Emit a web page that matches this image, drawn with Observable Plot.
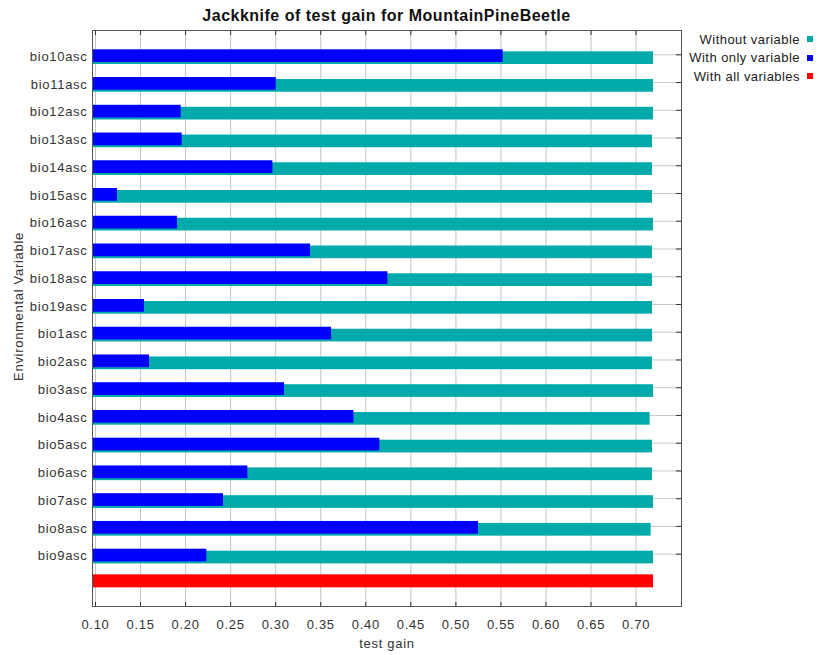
<!DOCTYPE html>
<html>
<head>
<meta charset="utf-8">
<script src="https://cdn.jsdelivr.net/npm/d3@7"></script>
<script src="https://cdn.jsdelivr.net/npm/@observablehq/plot@0.6"></script>
<style>
  body { margin: 0; background: #fff; }
  #chart { position: relative; width: 819px; height: 655px; font-family: "Liberation Sans", Arial, sans-serif; }
  #chart svg { position: absolute; left: 0; top: 0; z-index: 0; }
  #title { position: absolute; z-index: 1; left: 92px; width: 589px; top: 7px; line-height: 18px; text-align: center;
           font-weight: bold; font-size: 16px; color: #111; letter-spacing: 0.5px; }
  #legend { position: absolute; z-index: 1; right: 6px; top: 30px; font-size: 13px; color: #222; letter-spacing: 0.45px; }
  #legend .row { display: flex; align-items: center; justify-content: flex-end; height: 18.6px; }
  #legend .sw { display: inline-block; width: 6px; height: 6px; margin-left: 7px; }
</style>
</head>
<body>
<div id="chart">
  <div id="title"></div>
  <div id="legend"></div>
</div>
<script>
// Jackknife of test gain: each environmental variable alone vs. left out
const variables = ["bio10asc", "bio11asc", "bio12asc", "bio13asc", "bio14asc", "bio15asc", "bio16asc",
  "bio17asc", "bio18asc", "bio19asc", "bio1asc", "bio2asc", "bio3asc", "bio4asc", "bio5asc",
  "bio6asc", "bio7asc", "bio8asc", "bio9asc"];
const withoutVariable = [0.7193, 0.7193, 0.7193, 0.7182, 0.7182, 0.7182, 0.7193, 0.7182, 0.7182, 0.7182,
  0.7182, 0.7182, 0.7193, 0.7156, 0.7182, 0.7182, 0.7193, 0.7167, 0.7193];
const withOnlyVariable = [0.5525, 0.3006, 0.1951, 0.1962, 0.2969, 0.1244, 0.1910, 0.3387, 0.4245, 0.1544,
  0.3620, 0.1600, 0.3098, 0.3868, 0.4156, 0.2691, 0.2421, 0.5251, 0.2236];
const allVariables = 0.7193;
const allRow = "all";
const xTicks = [0.10, 0.15, 0.20, 0.25, 0.30, 0.35, 0.40, 0.45, 0.50, 0.55, 0.60, 0.65, 0.70];

const chartTitle = "Jackknife of test gain for MountainPineBeetle";
const xLabel = "test gain";
const yLabel = "Environmental Variable";
const legendItems = [
  {label: "Without variable", color: "#00aaaa"},
  {label: "With only variable", color: "#0000ff"},
  {label: "With all variables", color: "#ff0000"}
];

const rows = variables.map((v, i) => ({variable: v, without: withoutVariable[i], only: withOnlyVariable[i]}));
const allRows = [{variable: allRow, gain: allVariables}];

const W = 819, H = 655;
const mL = 92, mR = 138, mT = 30, mB = 49;
const frameW = W - mL - mR, frameH = H - mT - mB;
const half = 27.74 / 2;

const chart = Plot.plot({
  width: W, height: H,
  marginLeft: mL, marginRight: mR, marginTop: mT, marginBottom: mB,
  style: {fontFamily: "'Liberation Sans', Arial, sans-serif", fontSize: "13px", color: "#333", letterSpacing: "0.7px", background: "transparent"},
  x: {domain: [0.0967, 0.7504]},
  y: {type: "band", domain: [...variables, allRow], range: [40.43, 595.3], padding: 0, round: false},
  marks: [
    Plot.gridX(xTicks, {stroke: "#c4c4c4", strokeOpacity: 1}),
    Plot.gridY(variables, {stroke: "#c8c8c8", strokeOpacity: 1}),
    Plot.barX(rows, {y: "variable", x: "without", fill: "#00aaaa", insetTop: half - 3, insetBottom: half - 9.7, clip: true}),
    Plot.barX(rows, {y: "variable", x: "only", fill: "#0000ff", insetTop: half - 5, insetBottom: half - 7.7, clip: true}),
    Plot.barX(allRows, {y: "variable", x: "gain", fill: "#ff0000", insetTop: half - 7.1, insetBottom: half - 5.9, clip: true}),
    // inward tick marks on all four sides of the frame
    Plot.ruleX(xTicks, {stroke: "#333", insetTop: frameH - 4}),
    Plot.ruleX(xTicks, {stroke: "#333", insetBottom: frameH - 5}),
    Plot.ruleY(variables, {stroke: "#333", insetLeft: frameW - 5}),
    Plot.frame({stroke: "#555"}),
    Plot.axisX(xTicks, {anchor: "bottom", tickSize: 0, tickPadding: 13, tickFormat: d3.format(".2f"),
      label: xLabel, labelAnchor: "center", labelArrow: "none", labelOffset: 41}),
    Plot.axisY(variables, {anchor: "left", tickSize: 0, tickPadding: 5, dy: 2, label: null}),
    Plot.text([yLabel], {text: d => d, frameAnchor: "left", textAnchor: "middle", rotate: -90, dx: -74, dy: -12, fill: "#333"})
  ]
});

const root = document.getElementById("chart");
root.appendChild(chart);
document.getElementById("title").textContent = chartTitle;
const legend = document.getElementById("legend");
for (const item of legendItems) {
  const row = document.createElement("div");
  row.className = "row";
  const t = document.createElement("span");
  t.textContent = item.label;
  const s = document.createElement("span");
  s.className = "sw";
  s.style.background = item.color;
  row.appendChild(t);
  row.appendChild(s);
  legend.appendChild(row);
}
</script>
</body>
</html>
